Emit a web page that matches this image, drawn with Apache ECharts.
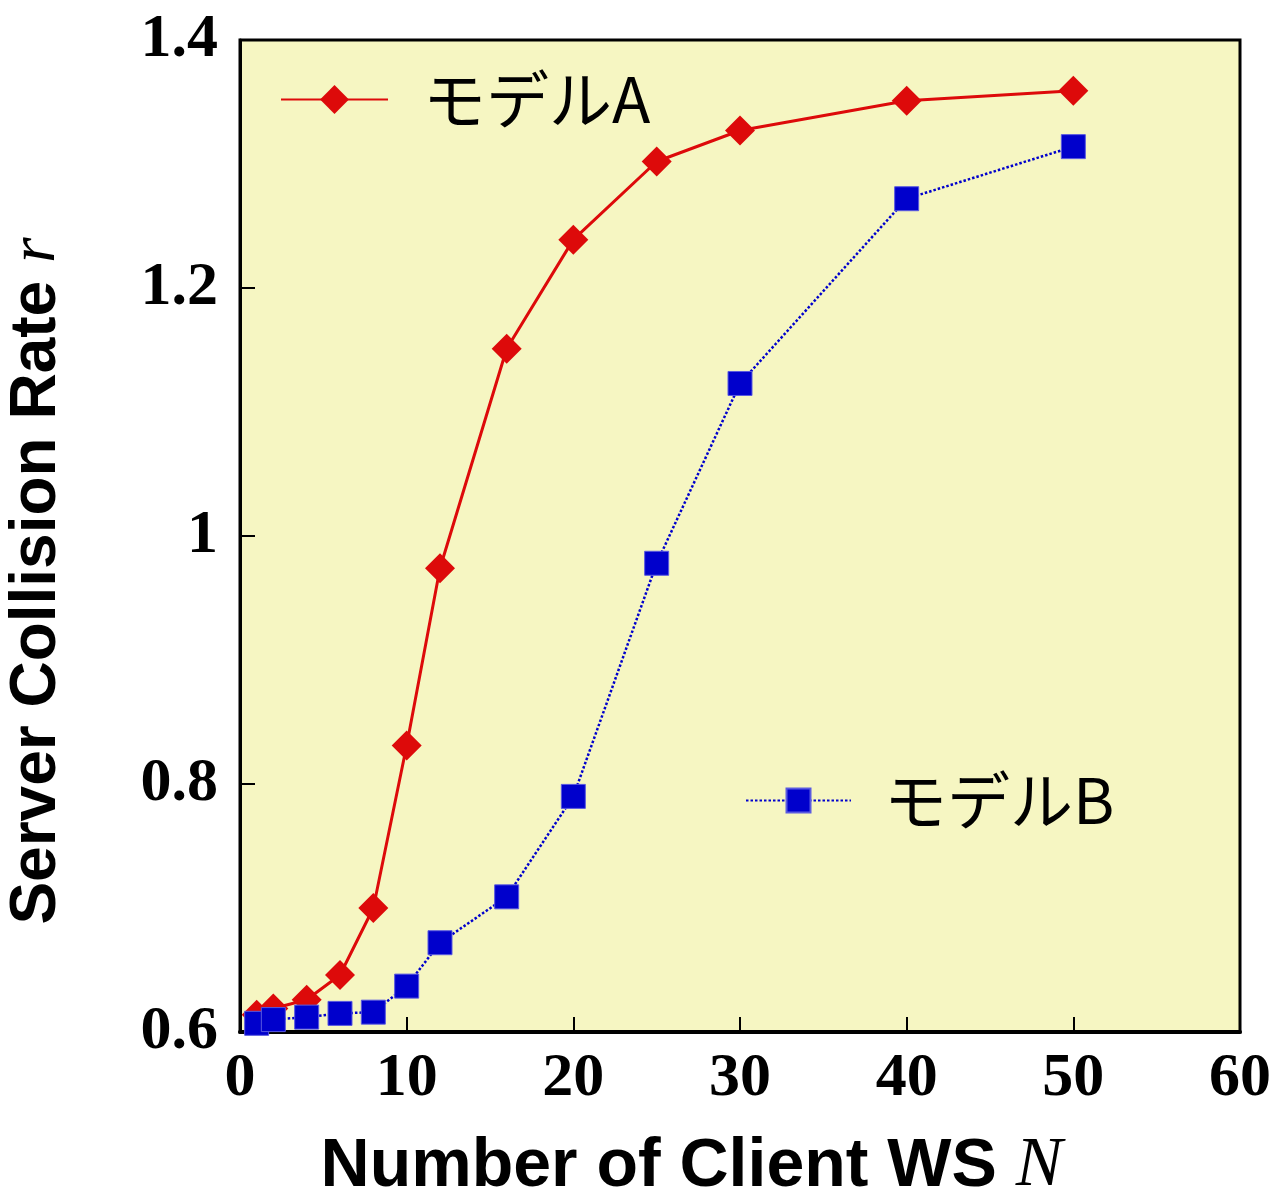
<!DOCTYPE html>
<html>
<head>
<meta charset="utf-8">
<script src="https://cdn.jsdelivr.net/npm/echarts@6/dist/echarts.min.js"></script>
<style>html,body{margin:0;padding:0;background:#fff}#c{width:1287px;height:1196px}</style>
</head>
<body>
<div id="c"></div>
<script>
const nValues = [1, 2, 4, 6, 8, 10, 12, 16, 20, 25, 30, 40, 50];
const modelA = [0.614, 0.619, 0.626, 0.646, 0.700, 0.831, 0.974, 1.151, 1.239, 1.302, 1.327, 1.351, 1.359];
const modelB = [0.607, 0.610, 0.612, 0.615, 0.616, 0.637, 0.672, 0.709, 0.790, 0.978, 1.123, 1.272, 1.314];
const seriesNames = ['モデルA', 'モデルB'];
const xTitle = 'Number of Client WS ';
const xVar = 'N';
const yTitle = 'Server Collision Rate ';
const yVar = 'r';

const chart = echarts.init(document.getElementById('c'));
const pairs = (ys) => nValues.map((x, i) => [x, ys[i]]);
const tickFont = {color: '#000', fontFamily: 'Liberation Serif', fontWeight: 'bold', fontSize: 62};
const legendText = {color: '#000', fontFamily: 'Noto Sans CJK JP', fontSize: 63};

chart.setOption({
  animation: false,
  backgroundColor: '#ffffff',
  grid: {left: 240, right: 47, top: 40, bottom: 164, containLabel: false, outerBoundsMode: 'none',
         show: true, backgroundColor: '#F6F6C2', borderColor: '#000', borderWidth: 3},
  legend: [
    {data: [seriesNames[0]], left: 280, top: 68, padding: 0, itemWidth: 107, itemHeight: 36, selectedMode: false,
     textStyle: Object.assign({padding: [0, 0, 0, 30]}, legendText)},
    {data: [seriesNames[1]], left: 745, top: 769, padding: 0, itemWidth: 105, itemHeight: 30, selectedMode: false,
     textStyle: Object.assign({padding: [0, 0, 0, 28]}, legendText)}
  ],
  xAxis: {
    type: 'value', min: 0, max: 60, interval: 10,
    axisLine: {show: true, onZero: false, lineStyle: {color: '#000', width: 4}},
    axisTick: {show: true, inside: true, length: 15, lineStyle: {color: '#000', width: 2}},
    axisLabel: Object.assign({margin: 16}, tickFont),
    splitLine: {show: false},
    name: '{a|' + xTitle + '}{b|' + xVar + '}',
    nameLocation: 'middle', nameGap: 100, nameMoveOverlap: false,
    nameTextStyle: {padding: [0, 97, 0, 0], rich: {
      a: {fontFamily: 'Liberation Sans', fontWeight: 'bold', fontSize: 68, color: '#000'},
      b: {fontFamily: 'Liberation Serif', fontStyle: 'italic', fontSize: 70, color: '#000'}
    }}
  },
  yAxis: {
    type: 'value', min: 0.6, max: 1.4, interval: 0.2,
    axisLine: {show: true, onZero: false, lineStyle: {color: '#000', width: 3}},
    axisTick: {show: true, inside: true, length: 15, lineStyle: {color: '#000', width: 2}},
    axisLabel: Object.assign({margin: 22}, tickFont),
    splitLine: {show: false},
    name: '{a|' + yTitle + '}{b|' + yVar + '}',
    nameLocation: 'middle', nameGap: 170, nameRotate: 90, nameMoveOverlap: false,
    nameTextStyle: {padding: [0, 90, 0, 0], rich: {
      a: {fontFamily: 'Liberation Sans', fontWeight: 'bold', fontSize: 64, color: '#000'},
      b: {fontFamily: 'Liberation Serif', fontStyle: 'italic', fontSize: 66, color: '#000'}
    }}
  },
  series: [
    {name: seriesNames[0], type: 'line', data: pairs(modelA), symbol: 'diamond', symbolSize: 30,
     itemStyle: {color: '#DD0A0A'}, lineStyle: {color: '#DD0A0A', width: 3, type: 'solid'}, z: 2},
    {name: seriesNames[1], type: 'line', data: pairs(modelB), symbol: 'rect', symbolSize: 24,
     itemStyle: {color: '#0000CC', borderColor: '#5A5AE0', borderWidth: 1}, lineStyle: {color: '#0000CC', width: 2.5, type: [2.5, 2]}, z: 3}
  ]
});
</script>
</body>
</html>
